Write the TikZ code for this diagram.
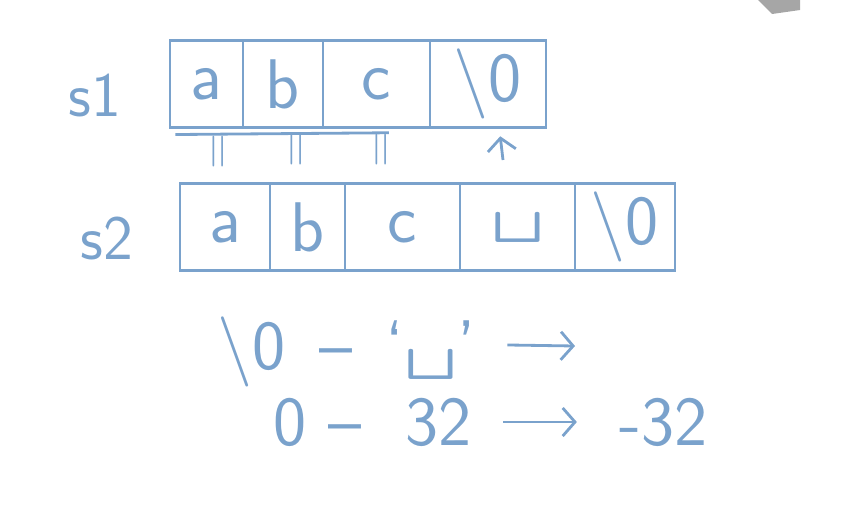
\documentclass[tikz,border=0pt]{standalone}
\usepackage{tikz}
\usetikzlibrary{positioning, arrows, arrows.meta}
\definecolor{ink}{RGB}{122,162,204}
\newcommand{\vspc}{\scalebox{1.6}[1.2]{\textvisiblespace}}

\begin{document}
\begin{tikzpicture}[x=0.02cm, y=-0.02cm, color=ink, line width=1.6pt, >={Straight Barb[length=7pt,width=16pt]},
    cell/.style={draw=ink, minimum height=1.74cm, inner sep=0pt, outer sep=0pt, font=\fontsize{40}{44}\selectfont\sffamily},
    arrname/.style={font=\fontsize{36}{40}\selectfont\sffamily},
    eqmark/.style={rotate=90, font=\fontsize{28}{30}\selectfont\sffamily},
    calc/.style={anchor=west, font=\fontsize{40}{44}\selectfont\sffamily}]
    \useasboundingbox (0,0) rectangle (859,508);

    % s1
    \node[arrname] (s1) at (95,95) {s1};
    \node[cell, minimum width=1.46cm, anchor=west] (a1) at (170,84) {a};
    \node[cell, minimum width=1.6cm, right=0pt of a1] (b1) {b};
    \node[cell, minimum width=2.14cm, right=0pt of b1] (c1) {c};
    \node[cell, minimum width=2.32cm, right=0pt of c1] (d1) {\textbackslash 0};

    % compare marks
    \draw ([xshift=3pt,yshift=-4pt]a1.south west) -- ([xshift=7pt,yshift=-3pt]c1.south);
    \node[eqmark] (q1) at (222,152) {=};
    \node[eqmark] (q2) at (300,150) {=};
    \node[eqmark] (q3) at (385,150) {=};
    \coordinate (up) at (503,160);
    \draw[->] (up) -- ([xshift=7pt,yshift=-5pt]d1.south);

    % s2
    \node[arrname] (s2) at (107,238) {s2};
    \node[cell, minimum width=1.8cm, anchor=west] (a2) at (180,227) {a};
    \node[cell, minimum width=1.5cm, right=0pt of a2] (b2) {b};
    \node[cell, minimum width=2.3cm, right=0pt of b2] (c2) {c};
    \node[cell, minimum width=2.3cm, right=0pt of c2] (d2) {\vspc};
    \node[cell, minimum width=2.0cm, right=0pt of d2] (e2) {\textbackslash 0};

    % difference
    \node[calc] (sub1) at (210,352) {\textbackslash 0\ \,--\ \,`\vspc'};
    \coordinate (res1) at (575,346);
    \draw[->] ([xshift=14pt,yshift=4pt]sub1.east) -- (res1);
    \node[calc] (sub2) at (266,422) {0\ --\ \ 32};
    \node[calc] (res2) at (612,422) {-32};
    \draw[->] ([xshift=14pt]sub2.east) -- ([xshift=-20pt]res2.west);

    % watermark
    \fill[gray!70] (758,0) -- (800,0) -- (800,10) -- (772,14) -- cycle;
\end{tikzpicture}
\end{document}
